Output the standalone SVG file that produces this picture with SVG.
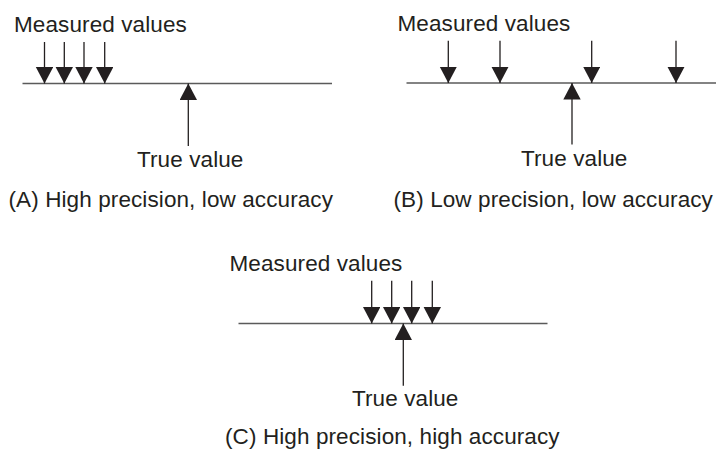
<svg xmlns="http://www.w3.org/2000/svg" width="720" height="453" viewBox="0 0 720 453">
<defs>
<style>
.t{font-family:"Liberation Sans",Arial,Helvetica,sans-serif;font-size:22.5px;letter-spacing:0.1px;fill:#231f20}
.axis{stroke:#5a5a5a;stroke-width:1.4;fill:none}
.arr{stroke:#231f20;stroke-width:1.3;fill:none;marker-end:url(#head)}
</style>
<marker id="head" markerUnits="userSpaceOnUse" markerWidth="17" markerHeight="18" refX="16.5" refY="8.7" orient="auto" viewBox="0 0 17 18">
<path d="M0,0 L16.5,8.7 L0,17.4 Z" fill="#231f20"/>
</marker>
</defs>
<rect width="720" height="453" fill="#ffffff"/>

<g id="panel-a">
<g id="a-measured"><text class="t" x="14" y="31.5">Measured values</text></g>
<g id="a-axis"><line class="axis" x1="22.5" y1="83.5" x2="332" y2="83.5"/></g>
<g id="a-true"><text class="t" x="137" y="167">True value</text></g>
<g id="a-caption"><text class="t" x="8.5" y="206.5">(A) High precision, low accuracy</text></g>
</g>

<g id="panel-b">
<g id="b-measured"><text class="t" x="397.5" y="30.5">Measured values</text></g>
<g id="b-axis"><line class="axis" x1="406.5" y1="83" x2="716" y2="83"/></g>
<g id="b-true"><text class="t" x="521" y="166">True value</text></g>
<g id="b-caption"><text class="t" x="393.5" y="207">(B) Low precision, low accuracy</text></g>
</g>

<g id="panel-c">
<g id="c-measured"><text class="t" x="229.5" y="271">Measured values</text></g>
<g id="c-axis"><line class="axis" x1="238.5" y1="323.5" x2="547.5" y2="323.5"/></g>
<g id="c-true"><text class="t" x="352" y="406">True value</text></g>
<g id="c-caption"><text class="t" x="225" y="444">(C) High precision, high accuracy</text></g>
</g>

<g id="connectors">
<line class="arr" x1="44.5" y1="42" x2="44.5" y2="83.5"/>
<line class="arr" x1="64.3" y1="42" x2="64.3" y2="83.5"/>
<line class="arr" x1="84" y1="42" x2="84" y2="83.5"/>
<line class="arr" x1="104.7" y1="42" x2="104.7" y2="83.5"/>
<line class="arr" x1="188.3" y1="146" x2="188.3" y2="83.5"/>

<line class="arr" x1="448.3" y1="40.7" x2="448.3" y2="83"/>
<line class="arr" x1="500" y1="40.7" x2="500" y2="83"/>
<line class="arr" x1="591.7" y1="40.7" x2="591.7" y2="83"/>
<line class="arr" x1="676" y1="40.7" x2="676" y2="83"/>
<line class="arr" x1="572" y1="144.5" x2="572" y2="83"/>

<line class="arr" x1="371.7" y1="280.7" x2="371.7" y2="323.5"/>
<line class="arr" x1="391.7" y1="280.7" x2="391.7" y2="323.5"/>
<line class="arr" x1="411.7" y1="280.7" x2="411.7" y2="323.5"/>
<line class="arr" x1="432.3" y1="280.7" x2="432.3" y2="323.5"/>
<line class="arr" x1="403.3" y1="385.7" x2="403.3" y2="323.5"/>
</g>
</svg>
